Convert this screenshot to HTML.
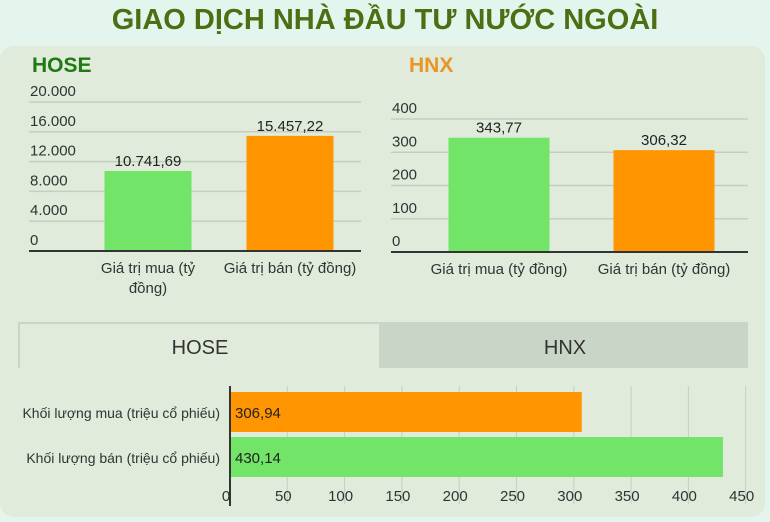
<!DOCTYPE html>
<html><head><meta charset="utf-8"><style>
body{margin:0;width:770px;height:522px;background:#e4f5ee;font-family:"Liberation Sans",sans-serif;overflow:hidden;position:relative}
.t{position:absolute;left:0;width:770px;top:4px;text-align:center;font-weight:bold;font-size:29px;color:#4b6f12}
.panel{position:absolute;left:0;top:46px;width:765px;height:471px;background:#e0ebdb;border-radius:14px}
svg{position:absolute;left:0;top:0}
</style></head><body>
<div class="t">GIAO DỊCH NHÀ ĐẦU TƯ NƯỚC NGOÀI</div>
<div class="panel"></div>
<svg width="770" height="522" id="s" font-family="Liberation Sans, sans-serif"></svg>
<script>
const hoseCats=["Giá trị mua (tỷ|đồng)","Giá trị bán (tỷ đồng)"];
const hoseVals=[10741.69,15457.22];
const hoseLbls=["10.741,69","15.457,22"];
const hoseTicks=[0,4000,8000,12000,16000,20000];
const hoseTickLbls=["0","4.000","8.000","12.000","16.000","20.000"];
const hnxCats=["Giá trị mua (tỷ đồng)","Giá trị bán (tỷ đồng)"];
const hnxVals=[343.77,306.32];
const hnxLbls=["343,77","306,32"];
const hnxTicks=[0,100,200,300,400];
const volCats=["Khối lượng mua (triệu cổ phiếu)","Khối lượng bán (triệu cổ phiếu)"];
const volVals=[306.94,430.14];
const volLbls=["306,94","430,14"];
const volTicks=[0,50,100,150,200,250,300,350,400,450];
const colors=["#72e468","#ff9500"];
const S=document.getElementById('s');const NS="http://www.w3.org/2000/svg";
function el(t,a,txt){const e=document.createElementNS(NS,t);for(const k in a)e.setAttribute(k,a[k]);if(txt!=null)e.textContent=txt;S.appendChild(e);return e;}
function col(o){
 const y=v=>o.y0-(v/o.max)*(o.y0-o.yTop);
 let t=el('text',{x:o.tx,y:72,'font-size':21,'font-weight':'bold',fill:o.tc},o.title);
 
 o.ticks.forEach((v,i)=>{
  if(v>0){let g=el('line',{x1:o.x0,x2:o.x1,y1:y(v),y2:y(v),stroke:'#c4cfc0','stroke-width':1.5});}
  let l=el('text',{x:o.x0+1,y:y(v)-6,'font-size':15,fill:'#333'},o.tickL[i]);
 });
 o.vals.forEach((v,i)=>{
  const cx=o.cx[i];
  let r=el('rect',{x:cx-o.bw/2,y:y(v),width:o.bw,height:o.y0-y(v),fill:colors[i]});
  
  let l=el('text',{x:cx,y:y(v)-5,'font-size':15,fill:'#222','text-anchor':'middle'},o.lbls[i]);
  
  o.cats[i].split('|').forEach((p,j)=>{let c=el('text',{x:cx,y:o.y0+22+j*20,'font-size':15,fill:'#333','text-anchor':'middle'},p);});
 });
 let a=el('line',{x1:o.x0,x2:o.x1,y1:o.y0,y2:o.y0,stroke:'#333','stroke-width':2});
}
col({id:'hose',title:'HOSE',tc:'#1f7a12',tx:32,x0:29,x1:361,y0:251,yTop:102,max:20000,ticks:hoseTicks,tickL:hoseTickLbls,vals:hoseVals,lbls:hoseLbls,cats:hoseCats,cx:[148,290],bw:87});
col({id:'hnx',title:'HNX',tc:'#e8962a',tx:409,x0:391,x1:748,y0:252,yTop:119,max:400,ticks:hnxTicks,tickL:hnxTicks.map(String),vals:hnxVals,lbls:hnxLbls,cats:hnxCats,cx:[499,664],bw:101});
// tabs
let tb=el('rect',{x:18,y:322,width:730,height:46,fill:'#c9d5c6'});
let t1=el('rect',{x:20,y:324,width:359,height:46,fill:'#e0ebdb'});
let t1t=el('text',{x:200,y:354,'font-size':20,fill:'#333','text-anchor':'middle'},'HOSE');
let t2t=el('text',{x:565,y:354,'font-size':20,fill:'#333','text-anchor':'middle'},'HNX');
// horizontal bars
const hx0=230,hpx=57.3/50,hx=v=>hx0+v*hpx;
volTicks.forEach(v=>{
 if(v>0){let g=el('line',{x1:hx(v),x2:hx(v),y1:386,y2:504,stroke:'#c4cfc0','stroke-width':1});}
 let l=el('text',{x:hx(v)-4,y:501,'font-size':15,fill:'#333','text-anchor':'middle'},String(v));
});
const hcol=["#ff9500","#72e468"],hy=[392,437];
volVals.forEach((v,i)=>{
 let r=el('rect',{x:hx0,y:hy[i],width:hx(v)-hx0,height:40,fill:hcol[i]});
 let l=el('text',{x:hx0+5,y:hy[i]+26,'font-size':15,fill:'#222'},volLbls[i]);
 let c=el('text',{x:220,y:hy[i]+26,'font-size':14,fill:'#333','text-anchor':'end'},volCats[i]);
});
let ax=el('line',{x1:hx0,x2:hx0,y1:386,y2:506,stroke:'#333','stroke-width':2});
</script>
</body></html>
